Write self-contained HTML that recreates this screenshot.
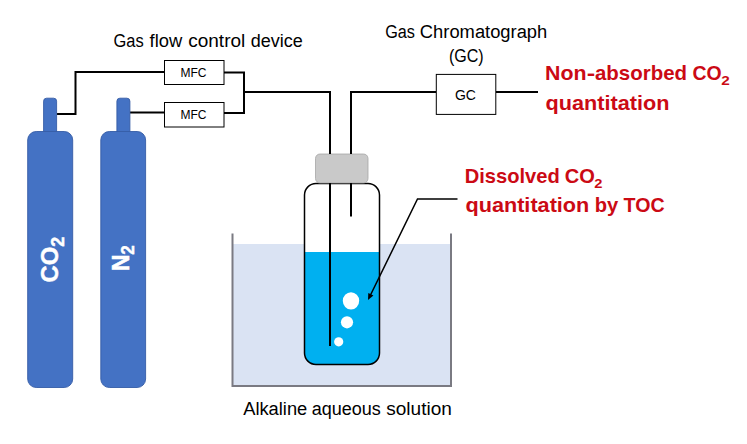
<!DOCTYPE html>
<html>
<head>
<meta charset="utf-8">
<title>CO2 absorption apparatus</title>
<style>
html,body{margin:0;padding:0;background:#fff;}
body{width:747px;height:444px;overflow:hidden;font-family:"Liberation Sans",sans-serif;}
svg{display:block;}
text{font-family:"Liberation Sans",sans-serif;}
</style>
</head>
<body>
<svg width="747" height="444" viewBox="0 0 747 444">
<rect x="0" y="0" width="747" height="444" fill="#ffffff"/>

<!-- water bath -->
<rect x="233" y="244" width="218" height="142" fill="#dae3f3"/>
<polyline points="232.5,233.5 232.5,386 451,386 451,233.5" fill="none" stroke="#7a7a82" stroke-width="2"/>

<!-- bottle -->
<path d="M304.5,195 a11.5,11.5 0 0 1 11.5,-11.5 h52 a11.5,11.5 0 0 1 11.5,11.5 V353 a11.5,11.5 0 0 1 -11.5,11.5 h-52 a11.5,11.5 0 0 1 -11.5,-11.5 Z" fill="#ffffff"/>
<path d="M304.5,252 H379.5 V353 a11.5,11.5 0 0 1 -11.5,11.5 h-52 a11.5,11.5 0 0 1 -11.5,-11.5 Z" fill="#00b0f0"/>
<path d="M304.5,195 a11.5,11.5 0 0 1 11.5,-11.5 h52 a11.5,11.5 0 0 1 11.5,11.5 V353 a11.5,11.5 0 0 1 -11.5,11.5 h-52 a11.5,11.5 0 0 1 -11.5,-11.5 Z" fill="none" stroke="#000" stroke-width="1.5"/>

<!-- cap -->
<rect x="315.5" y="154" width="52.5" height="29" rx="4.5" ry="4.5" fill="#c9c9c9" stroke="#a6a6a6" stroke-width="0.8"/>

<!-- tubes -->
<g fill="none" stroke="#000" stroke-width="2" stroke-linejoin="miter">
<polyline points="57,114 75.5,114 75.5,72 164.5,72"/>
<polyline points="130,112.5 164.5,112.5"/>
<polyline points="224,72.5 244,72.5 244,113 224,113"/>
<polyline points="244,92 330,92 330,154"/>
<polyline points="351,154 351,92 436,92"/>
<line x1="496" y1="92" x2="538" y2="92"/>
<line x1="330" y1="183" x2="330" y2="346"/>
<line x1="351" y1="183" x2="351" y2="216.5"/>
</g>

<!-- boxes -->
<g fill="#fff" stroke="#000" stroke-width="1">
<rect x="164.5" y="60.5" width="59.5" height="24"/>
<rect x="164.5" y="102.5" width="59.5" height="24.5"/>
<rect x="436.3" y="74.4" width="59.5" height="40"/>
</g>
<text x="193.5" y="76.6" font-size="12" text-anchor="middle" fill="#000">MFC</text>
<text x="193.5" y="118.9" font-size="12" text-anchor="middle" fill="#000">MFC</text>
<text x="465.4" y="99.8" font-size="14" text-anchor="middle" fill="#000">GC</text>

<!-- bubbles -->
<ellipse cx="351" cy="300.8" rx="8.2" ry="8.6" fill="#fff"/>
<ellipse cx="347" cy="322.3" rx="6.1" ry="6.1" fill="#fff"/>
<ellipse cx="338.7" cy="341.8" rx="4.6" ry="4.6" fill="#fff"/>

<!-- pointer arrow -->
<polyline points="457.5,199 417.5,199 370.5,295" fill="none" stroke="#000" stroke-width="1.5"/>
<polygon points="368,300 368.3,292.9 373.4,295.4" fill="#000"/>

<!-- cylinders -->
<g fill="#4472c4" stroke="#355ca6" stroke-width="0.9">
<rect x="43.6" y="98.2" width="13" height="40" rx="3" ry="3"/>
<rect x="27.7" y="131.5" width="45" height="256" rx="8.5" ry="8.5"/>
<rect x="116.9" y="98.2" width="13" height="40" rx="3" ry="3"/>
<rect x="100.8" y="131.5" width="44.8" height="256" rx="8.5" ry="8.5"/>
</g>
<g font-weight="bold" fill="#fff" stroke="#fff" stroke-width="0.45">
<text transform="translate(58.2,282.4) rotate(-90) scale(0.99,1.02)" font-size="24">CO<tspan font-size="18" dy="5.3">2</tspan></text>
<text transform="translate(128.9,271.1) rotate(-90) scale(0.95,1.02)" font-size="24">N<tspan font-size="18" dy="5.3">2</tspan></text>
</g>

<!-- labels -->
<g fill="#000">
<text x="113.48" y="46.5" font-size="18" textLength="30.18" lengthAdjust="spacingAndGlyphs">Gas</text>
<text x="149.62" y="46.5" font-size="18" textLength="32.65" lengthAdjust="spacingAndGlyphs">flow</text>
<text x="188.24" y="46.5" font-size="18" textLength="57.03" lengthAdjust="spacingAndGlyphs">control</text>
<text x="250.78" y="46.5" font-size="18" textLength="52.05" lengthAdjust="spacingAndGlyphs">device</text>
<text x="385.19" y="37.6" font-size="18" textLength="29.76" lengthAdjust="spacingAndGlyphs">Gas</text>
<text x="419.88" y="37.6" font-size="18" textLength="127.38" lengthAdjust="spacingAndGlyphs">Chromatograph</text>
<text x="448.94" y="61.5" font-size="18" textLength="34.76" lengthAdjust="spacingAndGlyphs">(GC)</text>
<text x="243.20" y="414.8" font-size="18" textLength="64.07" lengthAdjust="spacingAndGlyphs">Alkaline</text>
<text x="311.68" y="414.8" font-size="18" textLength="69.09" lengthAdjust="spacingAndGlyphs">aqueous</text>
<text x="386.22" y="414.8" font-size="18" textLength="65.65" lengthAdjust="spacingAndGlyphs">solution</text>
</g>
<g fill="#cb0a14" font-weight="bold">
<text x="545.11" y="80.3" font-size="20.2" textLength="41.44" lengthAdjust="spacingAndGlyphs">Non</text>
<text x="586.71" y="80.3" font-size="20.2" textLength="8.45" lengthAdjust="spacingAndGlyphs">-</text>
<text x="594.99" y="80.3" font-size="20.2" textLength="92.06" lengthAdjust="spacingAndGlyphs">absorbed</text>
<text x="692.52" y="80.3" font-size="20.2" textLength="29.15" lengthAdjust="spacingAndGlyphs">CO</text>
<text x="721.24" y="85.2" font-size="12.5" textLength="8.51" lengthAdjust="spacingAndGlyphs">2</text>
<text x="545.43" y="110" font-size="20.2" textLength="124.00" lengthAdjust="spacingAndGlyphs">quantitation</text>
<text x="464.69" y="182.8" font-size="20.2" textLength="95.10" lengthAdjust="spacingAndGlyphs">Dissolved</text>
<text x="564.70" y="182.8" font-size="20.2" textLength="30.11" lengthAdjust="spacingAndGlyphs">CO</text>
<text x="594.16" y="187.8" font-size="12.5" textLength="8.17" lengthAdjust="spacingAndGlyphs">2</text>
<text x="465.43" y="212" font-size="20.2" textLength="123.90" lengthAdjust="spacingAndGlyphs">quantitation</text>
<text x="594.69" y="212" font-size="20.2" textLength="23.55" lengthAdjust="spacingAndGlyphs">by</text>
<text x="623.60" y="212" font-size="20.2" textLength="41.04" lengthAdjust="spacingAndGlyphs">TOC</text>
</g>

</svg>
</body>
</html>
